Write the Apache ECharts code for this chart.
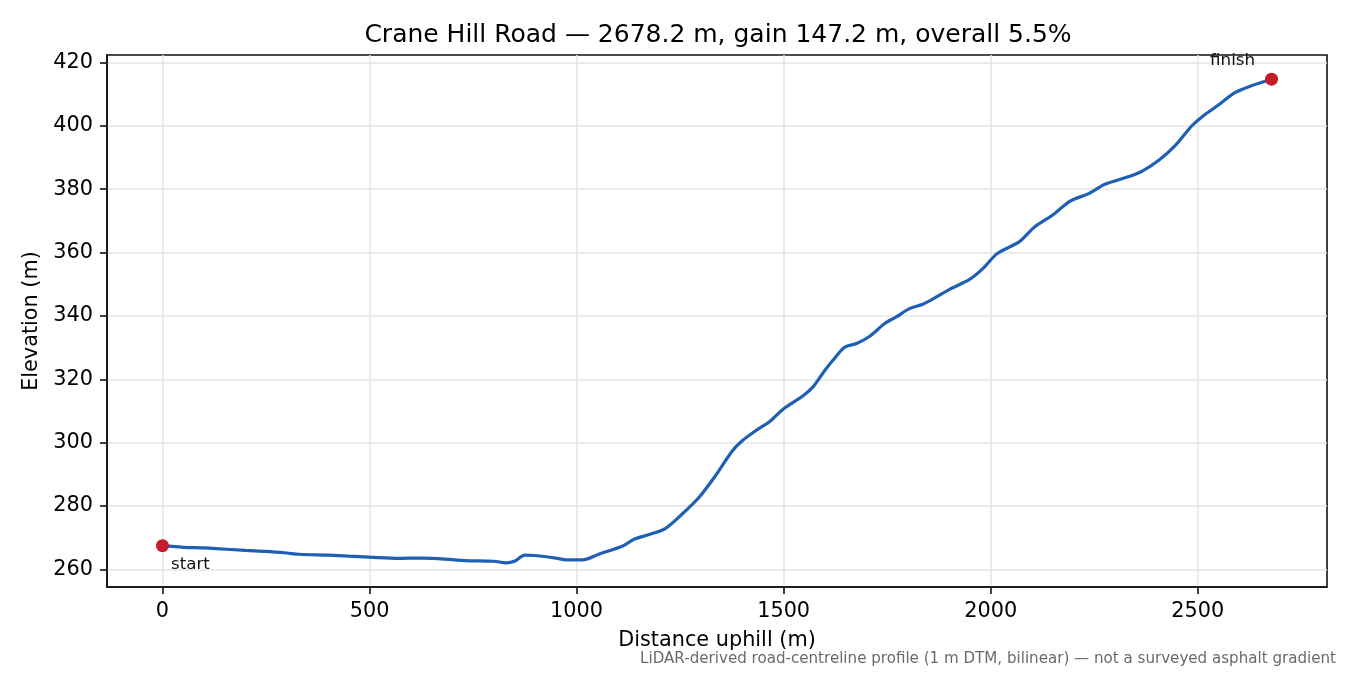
<!DOCTYPE html>
<html>
<head>
<meta charset="utf-8">
<script src="https://cdn.jsdelivr.net/npm/echarts@6/dist/echarts.min.js"></script>
<style>
  html, body { margin: 0; padding: 0; background: #fff; }
  #chart { width: 1350px; height: 675px; }
</style>
</head>
<body>
<div id="chart"></div>
<script>
// profile: distance uphill (m) / elevation (m)
var distM = [0, 50, 100, 130, 200, 250, 300, 330, 400, 450, 500, 570, 630, 700, 730, 800, 830, 850, 875, 900,
  950, 975, 1015, 1055, 1110, 1140, 1175, 1215, 1255, 1296, 1336, 1376, 1400, 1435, 1465, 1498, 1547, 1571, 1595, 1619,
  1648, 1676, 1708, 1744, 1772, 1804, 1836, 1869, 1901, 1949, 1981, 2014, 2046, 2070, 2108, 2148, 2193, 2237, 2277, 2334,
  2366, 2406, 2446, 2486, 2510, 2543, 2591, 2631, 2678.2];
var elevM = [267.5, 267.0, 266.8, 266.6, 266.0, 265.7, 265.2, 264.8, 264.5, 264.2, 263.9, 263.5, 263.6, 263.1, 262.8, 262.6, 262.1, 262.6, 264.5, 264.4,
  263.6, 263.0, 263.0, 264.9, 267.3, 269.6, 271.0, 273.0, 277.5, 282.8, 289.7, 297.4, 300.6, 304.0, 306.5, 310.5, 314.8, 317.6, 322.0, 326.0,
  330.2, 331.3, 333.6, 337.6, 339.7, 342.3, 343.7, 346.0, 348.4, 351.5, 354.9, 359.5, 361.8, 363.5, 368.3, 371.7, 376.3, 378.6, 381.6, 384.0,
  385.7, 389.1, 393.8, 400.0, 402.8, 405.9, 410.5, 412.7, 414.7];
var endNames = ['start', 'finish'];
var xTicks = [0, 500, 1000, 1500, 2000, 2500];
var yTicks = [260, 280, 300, 320, 340, 360, 380, 400, 420];

var profile = [];
for (var i = 0; i < distM.length; i++) {
  profile.push([distM[i], elevM[i]]);
}
var last = distM.length - 1;

// matplotlib-like 5% margins
var xSpan = distM[last] - distM[0];
var yMin = Math.min.apply(null, elevM), yMax = Math.max.apply(null, elevM);
var ySpan = yMax - yMin;
var xLo = distM[0] - xSpan * 0.05, xHi = distM[last] + xSpan * 0.05;
var yLo = yMin - ySpan * 0.05, yHi = yMax + ySpan * 0.05;

var font = 'DejaVu Sans';
var ink = '#111111';
var plain = function (v) { return String(v); };

var chart = echarts.init(document.getElementById('chart'), null, { renderer: 'canvas' });

chart.setOption({
  animation: false,
  backgroundColor: '#ffffff',
  textStyle: { fontFamily: font },
  title: {
    text: 'Crane Hill Road — 2678.2 m, gain 147.2 m, overall 5.5%',
    left: 713,
    textAlign: 'center',
    top: 18,
    textStyle: { fontFamily: font, fontSize: 25, fontWeight: 'normal', color: '#000' }
  },
  grid: {
    left: 107, right: 23, top: 55, bottom: 88,
    show: true, borderColor: ink, borderWidth: 1.6, backgroundColor: 'transparent'
  },
  xAxis: {
    type: 'value',
    min: xLo,
    max: xHi,
    name: 'Distance uphill (m)',
    nameLocation: 'middle',
    nameGap: 43,
    nameTextStyle: { fontFamily: font, fontSize: 20.8, color: '#000' },
    axisLine: { show: true, onZero: false, lineStyle: { color: ink, width: 1.6 } },
    axisTick: { show: true, length: 7, customValues: xTicks, lineStyle: { color: ink, width: 1.6 } },
    axisLabel: { customValues: xTicks, formatter: plain, margin: 14, fontFamily: font, fontSize: 20.8, color: '#000' },
    splitLine: { show: true, lineStyle: { color: '#e4e4e4', width: 1.5 } }
  },
  yAxis: {
    type: 'value',
    min: yLo,
    max: yHi,
    name: 'Elevation (m)',
    nameLocation: 'middle',
    nameGap: 61,
    nameTextStyle: { fontFamily: font, fontSize: 20.8, color: '#000' },
    axisLine: { show: true, onZero: false, lineStyle: { color: ink, width: 1.6 } },
    axisTick: { show: true, length: 7, customValues: yTicks, lineStyle: { color: ink, width: 1.6 } },
    axisLabel: { customValues: yTicks, formatter: plain, margin: 14, fontFamily: font, fontSize: 20.8, color: '#000' },
    splitLine: { show: true, lineStyle: { color: '#e4e4e4', width: 1.5 } }
  },
  series: [
    {
      type: 'line',
      data: profile,
      showSymbol: false,
      smooth: 0.3,
      lineStyle: { color: '#1f5fb4', width: 3.2 },
      z: 2
    },
    {
      type: 'scatter',
      symbolSize: 13,
      itemStyle: { color: '#c41c2a', opacity: 1 },
      z: 3,
      data: [
        {
          value: profile[0], name: endNames[0],
          label: { show: true, formatter: '{b}', position: [15, 17], align: 'left', verticalAlign: 'top',
            fontFamily: font, fontSize: 16.7, color: '#111' }
        },
        {
          value: profile[last], name: endNames[1],
          label: { show: true, formatter: '{b}', position: [-10, -12], align: 'right', verticalAlign: 'middle',
            fontFamily: font, fontSize: 16.7, color: '#111' }
        }
      ]
    }
  ],
  graphic: [
    {
      type: 'text',
      right: 14,
      top: 652,
      style: {
        text: 'LiDAR-derived road-centreline profile (1 m DTM, bilinear) — not a surveyed asphalt gradient',
        fontFamily: font, fontSize: 15.1, fill: '#6a6a6a'
      }
    }
  ]
});
</script>
</body>
</html>
